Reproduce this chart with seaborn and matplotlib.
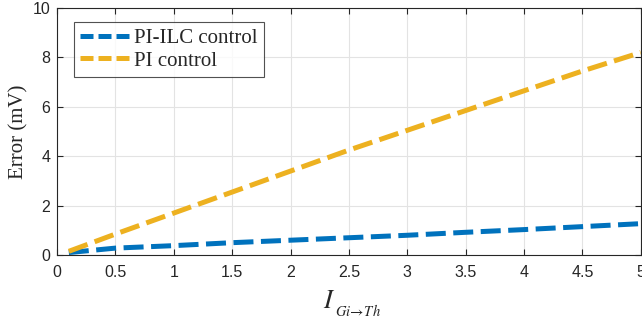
import numpy as np
import pandas as pd
import seaborn as sns
import matplotlib.pyplot as plt

# data
current = [0.1, 0.5, 1.0, 1.5, 2.0, 2.5, 3.0, 3.5, 4.0, 4.5, 5.0]
err_pi_ilc = [0.1, 0.28, 0.38, 0.5, 0.6, 0.7, 0.8, 0.92, 1.03, 1.15, 1.27]
err_pi = [0.15, 0.85, 1.7, 2.55, 3.4, 4.25, 5.05, 5.85, 6.65, 7.45, 8.2]
labels = ["PI-ILC control", "PI control"]
colors = ["#0072BD", "#EDB120"]

df = pd.DataFrame({
    "I": current * 2,
    "Error": err_pi_ilc + err_pi,
    "Method": [labels[0]] * len(current) + [labels[1]] * len(current),
})

sns.set_style("white")
plt.rcParams["font.family"] = ["Liberation Sans", "DejaVu Sans"]
plt.rcParams["mathtext.fontset"] = "stix"

fig, ax = plt.subplots(figsize=(6.42, 3.22), dpi=100)
fig.subplots_adjust(left=0.089, right=0.998, top=0.975, bottom=0.208)

sns.lineplot(data=df, x="I", y="Error", hue="Method", palette=colors,
             linewidth=3.6, ax=ax, legend=True)
for line in ax.lines:
    line.set_dashes((4, 1.5))
    line.set_solid_capstyle("butt")

ax.set_xlim(0, 5)
ax.set_ylim(0, 10)
ax.set_xticks(np.arange(0, 5.01, 0.5))
ax.set_xticklabels(["0", "0.5", "1", "1.5", "2", "2.5", "3", "3.5", "4", "4.5", "5"])
ax.set_yticks([0, 2, 4, 6, 8, 10])
ax.grid(True, color="#e3e3e3", linewidth=0.8)
ax.tick_params(direction="in", length=4, labelsize=11.5, colors="#262626",
               top=True, right=True, bottom=True, left=True, pad=5)
ax.tick_params(axis="x", pad=7)
for s in ax.spines.values():
    s.set_color("#262626")
    s.set_linewidth(0.8)

# x label: big italic I with a smaller subscript, as in the original
ax.set_xlabel("")
fig.text(0.503, 0.045, r"$I$", fontsize=19, ha="left", va="baseline")
fig.text(0.522, 0.02, r"$Gi\!\rightarrow\! Th$", fontsize=10.5, ha="left", va="baseline")
ax.set_ylabel("Error (mV)", fontsize=15, family="Liberation Serif", labelpad=3)

leg = ax.legend(loc="upper left", bbox_to_anchor=(0.029, 0.943), borderaxespad=0,
                prop={"family": "Liberation Serif", "size": 15},
                frameon=True, fancybox=False, edgecolor="#262626",
                handlelength=2.4, handletextpad=0.2, borderpad=0.3,
                labelspacing=0.15)
leg.get_frame().set_linewidth(0.8)
for h in leg.get_lines():
    h.set_linewidth(3.6)
    h.set_dashes((2.6, 1))

fig.savefig("out.png", dpi=100)
